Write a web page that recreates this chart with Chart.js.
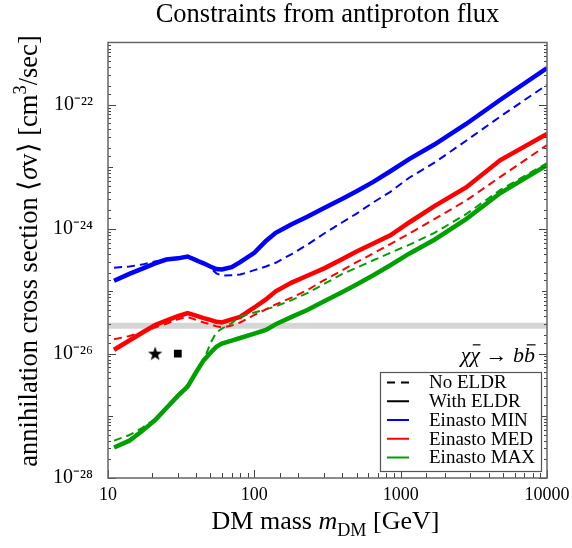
<!DOCTYPE html>
<html>
<head>
<meta charset="utf-8">
<script src="https://cdn.jsdelivr.net/npm/chart.js@4.4.1/dist/chart.umd.min.js"></script>
<style>
  html, body { margin: 0; padding: 0; background: #fff; }
  #wrap { width: 572px; height: 548px; }
</style>
</head>
<body>
<div id="wrap"><canvas id="chart" width="572" height="548"></canvas></div>
<script>
// Antiproton flux constraints on <sigma v>, chi chi -> b bbar, Einasto MIN/MED/MAX
const massGeV = [11, 14, 17, 21, 25, 30, 35, 40, 45, 50, 55, 60, 70, 80, 100, 120, 140, 180, 230, 300, 400, 500, 650, 850, 1150, 1700, 2800, 4800, 10000];

// With ELDR (solid)
const minWith = [1.48e-25, 1.91e-25, 2.29e-25, 2.82e-25, 3.24e-25, 3.39e-25, 3.63e-25, 3.16e-25, 2.82e-25, 2.51e-25, 2.29e-25, 2.24e-25, 2.45e-25, 2.95e-25, 4.17e-25, 6.46e-25, 8.71e-25, 1.20e-24, 1.58e-24, 2.19e-24, 3.09e-24, 4.07e-24, 5.75e-24, 8.51e-24, 1.35e-23, 2.29e-23, 4.90e-23, 1.20e-22, 3.89e-22];
const medWith = [1.15e-26, 1.62e-26, 2.14e-26, 2.88e-26, 3.39e-26, 3.98e-26, 4.47e-26, 4.07e-26, 3.72e-26, 3.47e-26, 3.24e-26, 3.16e-26, 3.55e-26, 3.89e-26, 5.50e-26, 7.41e-26, 1.00e-25, 1.38e-25, 1.78e-25, 2.34e-25, 3.31e-25, 4.37e-25, 5.89e-25, 7.94e-25, 1.29e-24, 2.34e-24, 4.68e-24, 1.29e-23, 3.39e-23];
const maxWith = [3.09e-28, 3.98e-28, 5.62e-28, 8.51e-28, 1.32e-27, 2.09e-27, 2.95e-27, 5.01e-27, 7.76e-27, 1.02e-26, 1.29e-26, 1.45e-26, 1.62e-26, 1.78e-26, 2.09e-26, 2.40e-26, 2.95e-26, 3.89e-26, 5.01e-26, 6.92e-26, 9.77e-26, 1.29e-25, 1.82e-25, 2.63e-25, 4.07e-25, 6.76e-25, 1.45e-24, 3.80e-24, 1.07e-23];

// No ELDR (dashed)
const minNo = [2.40e-25, 2.51e-25, 2.69e-25, 3.02e-25, 3.24e-25, 3.47e-25, 3.72e-25, 3.31e-25, 2.88e-25, 2.40e-25, 1.95e-25, 1.78e-25, 1.82e-25, 1.86e-25, 2.19e-25, 2.51e-25, 2.88e-25, 3.98e-25, 5.62e-25, 8.51e-25, 1.29e-24, 1.78e-24, 2.69e-24, 3.98e-24, 6.76e-24, 1.17e-23, 2.63e-23, 6.46e-23, 2.09e-22];
const medNo = [1.70e-26, 1.91e-26, 2.19e-26, 2.63e-26, 3.02e-26, 3.55e-26, 3.89e-26, 3.47e-26, 3.16e-26, 2.95e-26, 2.75e-26, 2.63e-26, 2.82e-26, 3.16e-26, 4.17e-26, 5.13e-26, 6.17e-26, 7.94e-26, 1.05e-25, 1.51e-25, 2.19e-25, 2.95e-25, 4.07e-25, 5.75e-25, 8.51e-25, 1.45e-24, 2.88e-24, 6.92e-24, 2.24e-23];
const maxNo = [3.98e-28, 4.90e-28, 6.31e-28, 8.91e-28, 1.38e-27, 2.19e-27, 3.16e-27, 4.79e-27, 7.59e-27, 1.45e-26, 2.19e-26, 2.51e-26, 3.09e-26, 3.89e-26, 4.57e-26, 5.13e-26, 5.75e-26, 7.24e-26, 9.33e-26, 1.32e-25, 1.91e-25, 2.40e-25, 3.16e-25, 4.17e-25, 5.62e-25, 8.71e-25, 1.74e-24, 4.27e-24, 1.15e-23];

// thermal relic band and benchmark markers
const relicMass = [10, 10000];
const relicSigma = [2.8e-26, 2.8e-26];
const starMass = [21];
const starSigma = [1e-26];
const squareMass = [30];
const squareSigma = [1e-26];

const legendLabels = ['No ELDR', 'With ELDR', 'Einasto MIN', 'Einasto MED', 'Einasto MAX'];
const legendColors = ['#000000', '#000000', '#0000ff', '#ff0000', '#00a000'];
const legendDashed = [true, false, false, false, false];

const SERIF = "'Liberation Serif', 'Times New Roman', serif";
const BLUE = '#0000ff', RED = '#ff0000', GREEN = '#00a000';

function pts(xs, ys) {
    return xs.map((m, i) => ({ x: m, y: ys[i] }));
}

function isDecade(v) {
    const e = Math.round(Math.log10(v));
    return Math.abs(v / Math.pow(10, e) - 1) < 1e-6;
}

const SUP = { '-': '\u207b', '0': '\u2070', '1': '\u00b9', '2': '\u00b2', '3': '\u00b3', '4': '\u2074', '5': '\u2075', '6': '\u2076', '7': '\u2077', '8': '\u2078', '9': '\u2079' };
function sup(s) { return String(s).split('').map(c => SUP[c] || c).join(''); }

// filled star used as point style
const starImg = document.createElement('canvas');
starImg.width = 16; starImg.height = 16;
(function () {
    const c = starImg.getContext('2d');
    c.fillStyle = '#000';
    c.beginPath();
    for (let i = 0; i < 10; i++) {
        const r = i % 2 === 0 ? 7.5 : 3;
        const a = -Math.PI / 2 + i * Math.PI / 5;
        const px = 8 + r * Math.cos(a), py = 8.5 + r * Math.sin(a);
        if (i === 0) c.moveTo(px, py); else c.lineTo(px, py);
    }
    c.closePath();
    c.fill();
})();

// draw a run of text pieces: [text, style] with style '', 'i', 'sub', 'sup', 'bar' (italic + overline)
function drawRich(ctx, parts, x, y, size, align) {
    const fontFor = st => {
        const it = (st === 'i' || st === 'bar') ? 'italic ' : '';
        const sz = (st === 'sub' || st === 'sup') ? size * 0.7 : size;
        return it + sz + 'px ' + SERIF;
    };
    let total = 0;
    const widths = parts.map(p => { ctx.font = fontFor(p[1]); const w = ctx.measureText(p[0]).width; total += w; return w; });
    let cx = align === 'right' ? x - total : (align === 'left' ? x : x - total / 2);
    ctx.textAlign = 'left';
    ctx.textBaseline = 'alphabetic';
    parts.forEach((p, i) => {
        ctx.font = fontFor(p[1]);
        let dy = 0;
        if (p[1] === 'sub') dy = size * 0.25;
        if (p[1] === 'sup') dy = -size * 0.4;
        ctx.fillText(p[0], cx, y + dy);
        if (p[1] === 'bar') {
            ctx.beginPath();
            ctx.lineWidth = 1.2;
            ctx.moveTo(cx + widths[i] * 0.25, y - size * 0.78);
            ctx.lineTo(cx + widths[i] * 1.05, y - size * 0.78);
            ctx.stroke();
        }
        cx += widths[i];
    });
}

const decorPlugin = {
    id: 'decor',
    afterDatasetsDraw(chart) {
        const { ctx, chartArea: a, scales } = chart;
        const xs = scales.x, ys = scales.y;
        ctx.save();
        ctx.strokeStyle = '#444';
        ctx.lineWidth = 1;
        // inward tick marks
        xs.ticks.forEach(t => {
            const px = Math.round(xs.getPixelForValue(t.value)) + 0.5;
            const len = isDecade(t.value) ? 8 : 5;
            ctx.beginPath(); ctx.moveTo(px, a.bottom); ctx.lineTo(px, a.bottom - len); ctx.stroke();
        });
        ys.ticks.forEach(t => {
            const py = Math.round(ys.getPixelForValue(t.value)) + 0.5;
            let len = 3;
            if (isDecade(t.value)) len = Math.round(Math.log10(t.value)) % 2 === 0 ? 8 : 5;
            ctx.beginPath(); ctx.moveTo(a.left, py); ctx.lineTo(a.left + len, py); ctx.stroke();
            ctx.beginPath(); ctx.moveTo(a.right, py); ctx.lineTo(a.right - len, py); ctx.stroke();
        });
        // frame
        ctx.strokeStyle = '#666';
        ctx.lineWidth = 1.5;
        ctx.strokeRect(a.left, a.top, a.right - a.left, a.bottom - a.top);

        // channel label
        ctx.fillStyle = '#000';
        ctx.strokeStyle = '#000';
        drawRich(ctx, [['\u03c7', 'i'], ['\u03c7', 'bar'], [' \u2192 ', ''], ['b', 'i'], ['b', 'bar']], a.right - 12, 362, 22, 'right');

        // legend box
        const lx = 380.5, ly = 372.5, lw = 161, lh = 99;
        ctx.fillStyle = '#fff';
        ctx.fillRect(lx, ly, lw, lh);
        ctx.strokeStyle = '#555';
        ctx.lineWidth = 1.2;
        ctx.strokeRect(lx, ly, lw, lh);
        ctx.font = '19px ' + SERIF;
        ctx.textBaseline = 'middle';
        ctx.textAlign = 'left';
        legendLabels.forEach((lab, i) => {
            const ry = 382.5 + i * 18.75;
            ctx.strokeStyle = legendColors[i];
            ctx.lineWidth = 2;
            ctx.setLineDash(legendDashed[i] ? [8, 6] : []);
            ctx.beginPath(); ctx.moveTo(387, ry); ctx.lineTo(409, ry); ctx.stroke();
            ctx.setLineDash([]);
            ctx.fillStyle = '#000';
            ctx.fillText(lab, 429, ry + 1);
        });
        ctx.restore();
    },
    afterDraw(chart) {
        const { ctx, chartArea: a } = chart;
        ctx.save();
        ctx.fillStyle = '#000';
        // x axis title
        drawRich(ctx, [['DM mass ', ''], ['m', 'i'], ['DM', 'sub'], [' [GeV]', '']], (a.left + a.right) / 2 - 2, 529, 26, 'center');
        // y axis title
        ctx.translate(37, 251);
        ctx.rotate(-Math.PI / 2);
        drawRich(ctx, [['annihilation cross section \u27e8', ''], ['\u03c3', 'i'], ['v\u27e9 [cm', ''], ['3', 'sup'], ['/sec]', '']], 0, 0, 26.5, 'center');
        ctx.restore();
    }
};

const solidW = 4.5, dashW = 2, dash = [8, 5];
function curve(label, ys, color, dashed) {
    return {
        label: label,
        data: pts(massGeV, ys),
        borderColor: color,
        backgroundColor: color,
        borderWidth: dashed ? dashW : solidW,
        borderDash: dashed ? dash : [],
        pointRadius: 0,
        tension: 0,
        fill: false,
        order: dashed ? 1 : 2
    };
}

new Chart(document.getElementById('chart'), {
    type: 'line',
    data: {
        datasets: [
            {
                label: 'thermal relic',
                data: pts(relicMass, relicSigma),
                borderColor: '#d6d6d6',
                borderWidth: 6,
                pointRadius: 0,
                fill: false,
                order: 10
            },
            curve('Einasto MIN (with ELDR)', minWith, BLUE, false),
            curve('Einasto MED (with ELDR)', medWith, RED, false),
            curve('Einasto MAX (with ELDR)', maxWith, GREEN, false),
            curve('Einasto MIN (no ELDR)', minNo, BLUE, true),
            curve('Einasto MED (no ELDR)', medNo, RED, true),
            curve('Einasto MAX (no ELDR)', maxNo, GREEN, true),
            {
                type: 'scatter',
                label: 'star',
                data: pts(starMass, starSigma),
                pointStyle: starImg,
                pointRadius: 8,
                showLine: false,
                order: 0
            },
            {
                type: 'scatter',
                label: 'square',
                data: pts(squareMass, squareSigma),
                pointStyle: 'rect',
                pointRadius: 5.5,
                backgroundColor: '#000',
                borderColor: '#000',
                borderWidth: 0,
                showLine: false,
                order: 0
            }
        ]
    },
    options: {
        responsive: false,
        animation: false,
        layout: { padding: { left: 0, right: 25, top: 0, bottom: 0 } },
        plugins: {
            legend: { display: false },
            tooltip: { enabled: false },
            title: {
                display: true,
                text: 'Constraints from antiproton flux',
                fullSize: false,
                color: '#000',
                font: { family: SERIF, size: 26.5, weight: 'normal', lineHeight: 1.15 },
                padding: { top: 0, bottom: 12 }
            }
        },
        scales: {
            x: {
                type: 'logarithmic',
                min: 10,
                max: 10000,
                grid: { display: false },
                border: { display: false },
                afterFit: s => { s.height = 70; },
                ticks: {
                    autoSkip: false,
                    maxRotation: 0,
                    padding: -2,
                    color: '#000',
                    font: { family: SERIF, size: 18 },
                    callback: v => isDecade(v) ? String(Math.round(v)) : ''
                }
            },
            y: {
                type: 'logarithmic',
                min: 1e-28,
                max: 1e-21,
                grid: { display: false },
                border: { display: false },
                afterFit: s => { s.width = 108; },
                ticks: {
                    autoSkip: false,
                    padding: 7,
                    color: '#000',
                    font: { family: SERIF, size: 20 },
                    callback: v => {
                        if (!isDecade(v)) return '';
                        const e = Math.round(Math.log10(v));
                        return e % 2 === 0 ? '10' + sup(e) : '';
                    }
                }
            }
        }
    },
    plugins: [decorPlugin]
});
</script>
</body>
</html>
